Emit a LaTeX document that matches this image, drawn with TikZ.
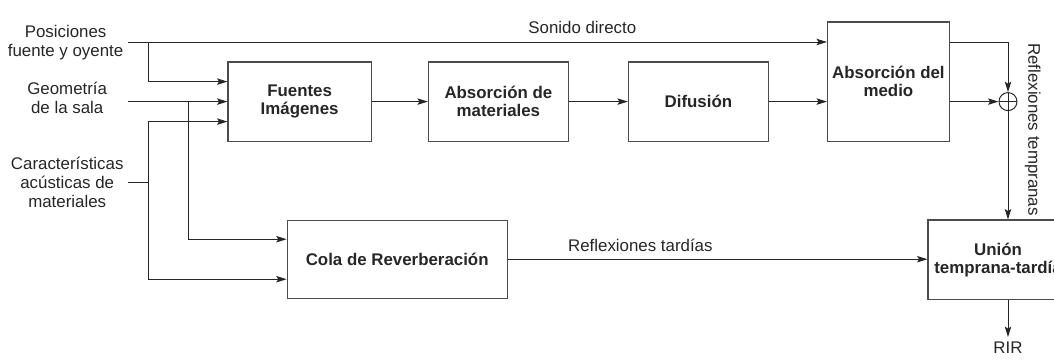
\documentclass[tikz,border=0pt]{standalone}
\usepackage{fontspec}
\setmainfont{Liberation Sans}
\usetikzlibrary{shapes,arrows.meta}
\tikzset{
  block/.style    = {draw=black!70, line width=0.75pt, rectangle, align=center, font=\fontsize{12}{12.8}\selectfont\bfseries, minimum height=1.98cm, minimum width=3.5cm},
  sum/.style      = {draw, circle, minimum size=0.45cm, inner sep=0pt,
                     path picture={\draw (path picture bounding box.north) -- (path picture bounding box.south)
                                         (path picture bounding box.west) -- (path picture bounding box.east);}},
  txt/.style      = {align=center}
}

\begin{document}
\begin{tikzpicture}[node distance=5cm, >={Stealth[length=2.6mm, width=1.6mm, inset=0.5mm]}, line width=0.7pt, color=black!85, font=\fontsize{12}{13.5}\selectfont]

\path[use as bounding box, clip] (0,0) rectangle (26.35,-9);

% Inputs
\node [txt] (pos) at (1.64,-1.06) {Posiciones\\fuente y oyente};
\node [txt] (geo) at (1.68,-2.45) {Geometría\\de la sala};
\node [txt] (car) at (1.68,-4.55) {Características\\acústicas de\\materiales};
\coordinate (pin) at (3.2,-1.05);
\coordinate (gin) at (3.2,-2.54);
\coordinate (cin) at (3.2,-4.55);
\coordinate (pj) at (3.7,-1.05);
\coordinate (gj) at (4.7,-2.54);
\coordinate (cj) at (3.7,-4.55);

% Early reflections chain
\node [block, minimum width=3.58cm] (fuentes) at (7.49,-2.54) {Fuentes\\Imágenes};
\node [block, node distance=4.97cm, right of=fuentes] (absmat) {Absorción de\\materiales};
\node [block, right of=absmat] (difusion) {Difusión};
\node [block, node distance=4.75cm, right of=difusion, yshift=0.5cm, minimum width=3cm, minimum height=2.98cm] (absmed) {Absorción del\\medio};
\node [sum] (sum) at (25.2,-2.54) {};

% Late part
\node [block, minimum width=5.5cm, minimum height=1.95cm] (cola) at (9.93,-6.48) {Cola de Reverberación};
\node [block] (union) at (24.95,-6.49) {Unión\\temprana-tardía};
\node (rir) at (25.2,-8.7) {RIR};

% Connections
\draw[->] (pin) -- node[above=2pt, pos=0.65] {Sonido directo} (pin -| absmed.west);
\draw[->] (pj) |- ([yshift=0.5cm]fuentes.west);
\draw[->] (gin) -- (fuentes.west);
\draw (cin) -- (cj);
\draw[->] (cj) |- ([yshift=-0.5cm]fuentes.west);
\draw[->] (cj) |- ([yshift=-0.5cm]cola.west);
\draw[->] (gj) |- ([yshift=0.5cm]cola.west);
\draw[->] (fuentes) -- (absmat);
\draw[->] (absmat) -- (difusion);
\draw[->] (difusion.east) -- (difusion.east -| absmed.west);
\draw[->] (absmed.east |- pin) -| (sum.north);
\draw[->] (absmed.east |- sum) -- (sum.west);
\draw[->] (sum.south) -- node[pos=0.17, xshift=0.62cm, rotate=-90] {Reflexiones tempranas} (sum |- union.north);
\draw[->] (cola.east) -- node[above=2pt, pos=0.316] {Reflexiones tardías} (cola.east -| union.west);
\draw[->] (sum |- union.south) -- (rir);

\end{tikzpicture}
\end{document}
